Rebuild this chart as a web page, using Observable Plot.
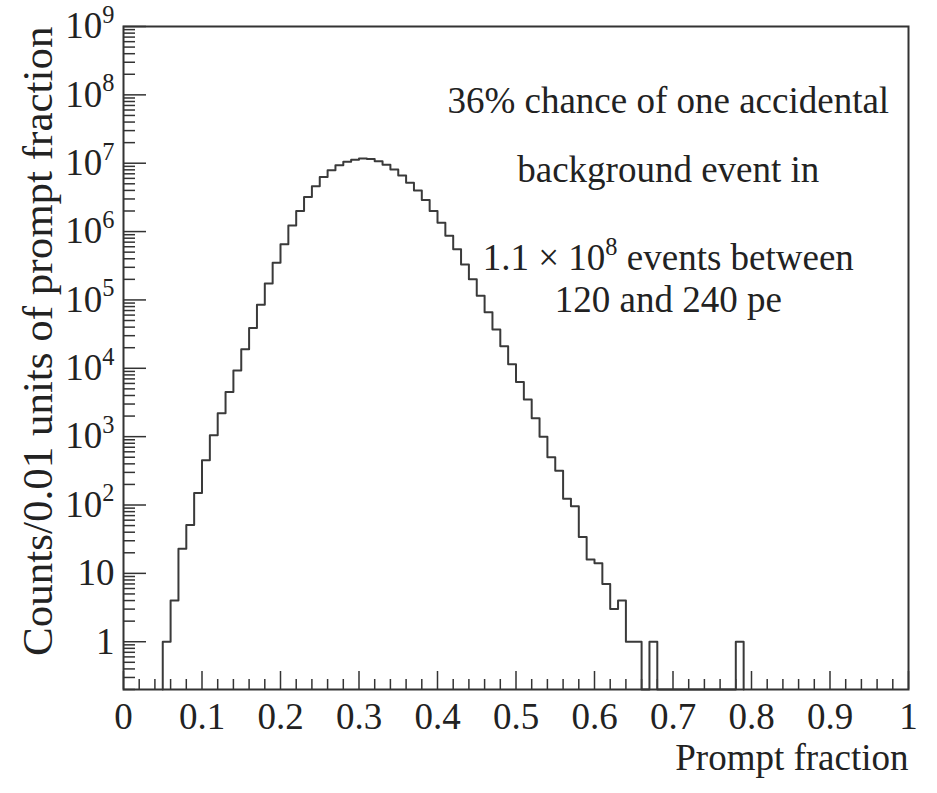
<!DOCTYPE html>
<html><head><meta charset="utf-8">
<script src="https://cdn.jsdelivr.net/npm/d3@7"></script>
<script src="https://cdn.jsdelivr.net/npm/@observablehq/plot@0.6"></script>
<style>body{margin:0;background:#fff;} svg{display:block;}</style>
</head><body><div id="chart"></div>
<script>
// Bin lower edges (bin width 0.01 units of prompt fraction)
const binStarts = [0.05,0.06,0.07,0.08,0.09,0.10,0.11,0.12,0.13,0.14,0.15,0.16,0.17,0.18,0.19,
  0.20,0.21,0.22,0.23,0.24,0.25,0.26,0.27,0.28,0.29,0.30,0.31,0.32,0.33,0.34,0.35,0.36,0.37,0.38,0.39,
  0.40,0.41,0.42,0.43,0.44,0.45,0.46,0.47,0.48,0.49,0.50,0.51,0.52,0.53,0.54,0.55,0.56,0.57,0.58,0.59,
  0.60,0.61,0.62,0.63,0.64,0.65,0.66,0.67,0.68,0.69,0.70,0.71,0.72,0.73,0.74,0.75,0.76,0.77,0.78];
const counts = [1,4,23,51,150,450,1050,2200,4500,9300,19000,39000,85000,174000,350000,
  650000,1230000,2000000,3200000,4600000,6300000,7900000,9300000,10500000,11200000,11700000,11500000,10700000,9500000,8100000,6600000,5200000,4000000,2900000,2000000,
  1350000,870000,550000,330000,200000,115000,66000,37000,21000,11500,6300,3500,1860,1000,500,316,123,96,34,16,
  14,7,3,4,1,1,0,1,0,0,0,0,0,0,0,0,0,0,1];
const binWidth = 0.01;

const xTicks = [0,0.1,0.2,0.3,0.4,0.5,0.6,0.7,0.8,0.9,1];
const xTickLabels = ["0","0.1","0.2","0.3","0.4","0.5","0.6","0.7","0.8","0.9","1"];
const yTicks = [1,1e1,1e2,1e3,1e4,1e5,1e6,1e7,1e8,1e9];
const yTickLabels = ["1","10","10^2","10^3","10^4","10^5","10^6","10^7","10^8","10^9"];

const annotationLines = ["36% chance of one accidental","background event in","1.1 × 10^8 events between","120 and 240 pe"];
const annotationX = 0.694;
const annotationY = [8.0e7, 7.8e6, 4.05e5, 9.8e4];

const xTitle = "Prompt fraction";
const yTitle = "Counts/0.01 units of prompt fraction";

// layout
const W = 937, H = 793, mL = 123, mR = 29, mT = 26, mB = 104;
const plotW = W - mL - mR, plotH = H - mT - mB;
const yFloor = 0.2;

const xMinor = d3.range(0, 1.0001, 0.02).filter(v => Math.abs(v*10 - Math.round(v*10)) > 1e-6);
const yMinor = [];
for (let e = -1; e <= 8; e++) for (let k = 2; k <= 9; k++) { const v = k * Math.pow(10, e); if (v >= yFloor && v <= 1e9) yMinor.push(v); }

const outline = [{x: binStarts[0], y: yFloor}];
binStarts.forEach((x0, i) => outline.push({x: x0, y: counts[i] > 0 ? counts[i] : yFloor}));
outline.push({x: binStarts[binStarts.length - 1] + binWidth, y: yFloor});

const xLab = new Map(xTicks.map((v, i) => [v, xTickLabels[i]]));
const yLab = new Map(yTicks.map((v, i) => [v, yTickLabels[i]]));
const ink = "#333";

const chart = Plot.plot({
  width: W, height: H, marginLeft: mL, marginRight: mR, marginTop: mT, marginBottom: mB,
  style: {fontFamily: "'Liberation Serif', 'Times New Roman', serif", fontSize: "37px", color: "#222", background: "white"},
  x: {domain: [0, 1]},
  y: {type: "log", domain: [yFloor, 1e9]},
  marks: [
    Plot.tickY(yMinor, {y: d => d, insetRight: plotW - 12, stroke: ink, strokeWidth: 1.5}),
    Plot.tickY(yTicks, {y: d => d, insetRight: plotW - 23, stroke: ink, strokeWidth: 1.5}),
    Plot.tickX(xMinor, {x: d => d, insetTop: plotH - 10, stroke: ink, strokeWidth: 1.5}),
    Plot.tickX(xTicks, {x: d => d, insetTop: plotH - 18, stroke: ink, strokeWidth: 1.5}),
    Plot.line(outline, {x: "x", y: "y", curve: "step-after", stroke: "#3a3a3a", strokeWidth: 2}),
    Plot.axisX({ticks: xTicks, tickFormat: d => xLab.get(d), tickSize: 0, tickPadding: 13, label: null, fontSize: 37}),
    Plot.axisY({ticks: yTicks, tickFormat: d => yLab.get(d), tickSize: 0, tickPadding: 9, label: null, fontSize: 37}),
    Plot.text(annotationLines, {x: () => annotationX, y: (d, i) => annotationY[i], text: d => d, textAnchor: "middle", fontSize: 37, fill: "#222"}),
    Plot.frame({stroke: ink, strokeWidth: 2}),
    Plot.text([xTitle], {frameAnchor: "bottom-right", text: d => d, textAnchor: "end", dy: 80, fontSize: 37, fill: "#222"}),
    Plot.text([yTitle], {frameAnchor: "top-left", text: d => d, textAnchor: "end", rotate: -90, dx: -102, fontSize: 43, fill: "#222"})
  ]
});
document.getElementById("chart").append(chart);

// superscripts: "a^n rest" -> a + raised n + rest
const ns = "http://www.w3.org/2000/svg";
chart.querySelectorAll("text").forEach(t => {
  const s = t.textContent;
  const m = s.match(/^(.*?)\^(\d+)(.*)$/);
  if (!m) return;
  const fs = parseFloat(getComputedStyle(t).fontSize) || 37;
  t.textContent = "";
  const a = document.createElementNS(ns, "tspan"); a.textContent = m[1];
  const b = document.createElementNS(ns, "tspan"); b.textContent = m[2];
  b.setAttribute("font-size", (fs * 0.66).toFixed(1)); b.setAttribute("dy", (-fs * 0.42).toFixed(1));
  t.append(a, b);
  if (m[3]) {
    const c = document.createElementNS(ns, "tspan"); c.textContent = m[3];
    c.setAttribute("dy", (fs * 0.42).toFixed(1));
    t.append(c);
  }
});
</script>
</body></html>
